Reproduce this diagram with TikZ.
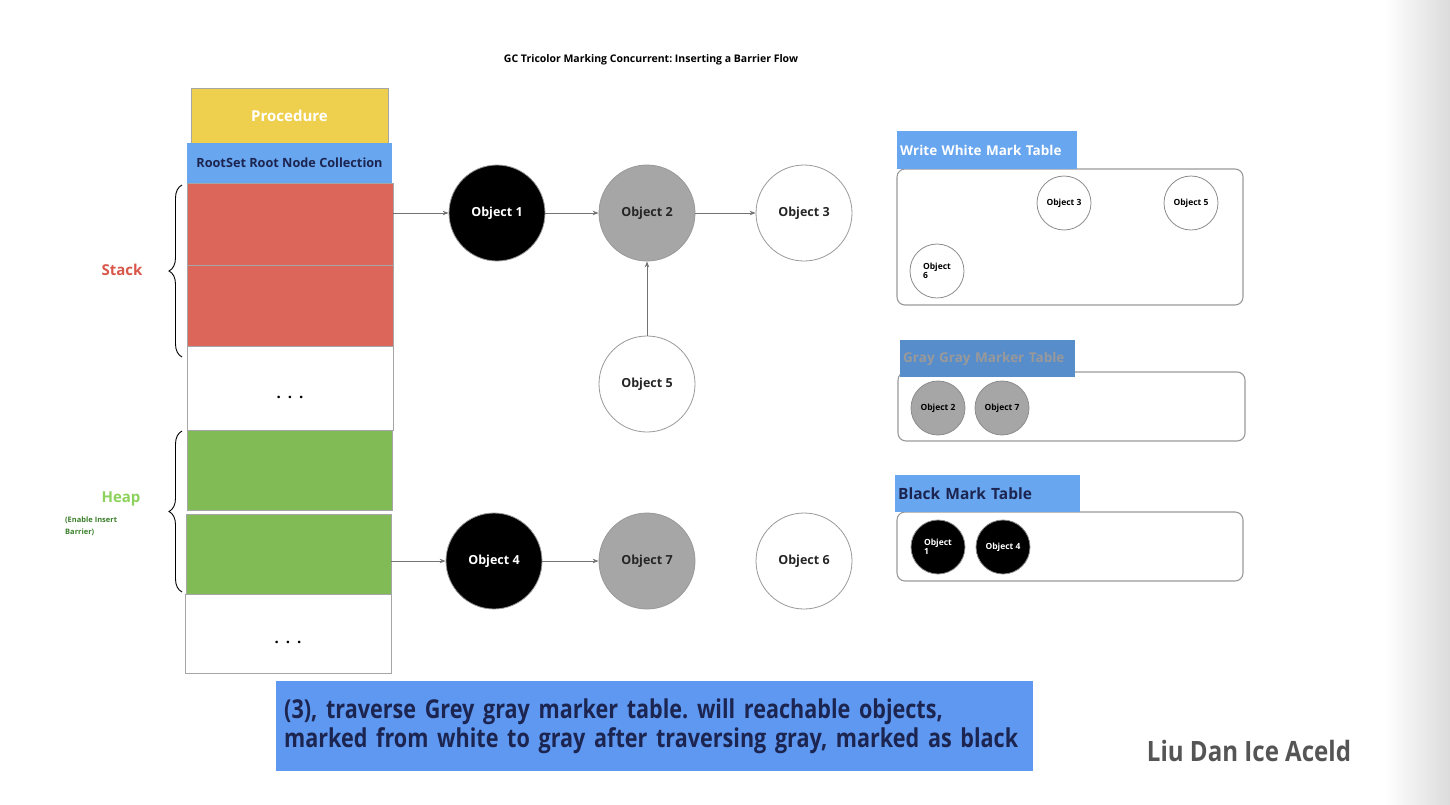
\documentclass[tikz,border=0pt]{standalone}
\usepackage{fontspec}
\setmainfont{Open Sans}
\newfontfamily\condfont[FakeStretch=0.83]{Open Sans}
\newfontfamily\authfont[FakeStretch=0.86]{Open Sans}
\usetikzlibrary{arrows.meta,decorations.pathreplacing,shapes.geometric}
\frenchspacing
\definecolor{procyellow}{HTML}{EFD04E}
\definecolor{hdrblue}{HTML}{68A6EF}
\definecolor{stackred}{HTML}{DB6659}
\definecolor{heapgreen}{HTML}{80BB55}
\definecolor{objgray}{HTML}{A6A6A6}
\definecolor{navytext}{HTML}{1C2450}
\definecolor{stacklabel}{HTML}{D9574A}
\definecolor{heaplabel}{HTML}{8CD15C}
\definecolor{darkgreen}{HTML}{3A7F2A}
\definecolor{capblue}{HTML}{5F98F1}
\definecolor{authorgray}{HTML}{555555}
\tikzset{
  cellbox/.style={draw=black!35, line width=0.8pt, inner sep=0pt},
  dotlabel/.style={font=\bfseries\fontsize{15}{16}\selectfont, inner sep=0pt},
  obj/.style={circle, draw=black!40, line width=0.8pt, minimum size=96pt, inner sep=0pt, font=\bfseries\fontsize{12.5}{14}\selectfont},
  blackobj/.style={obj, fill=black, text=white},
  grayobj/.style={obj, fill=objgray, text=black!85},
  whiteobj/.style={obj, fill=white, text=black!85},
  smallobj/.style={circle, draw=black!45, line width=0.8pt, minimum size=54pt, inner sep=0pt, font=\bfseries\fontsize{8.5}{9.5}\selectfont, align=left},
  link/.style={draw=black!55, line width=0.8pt, -{Stealth[length=6pt,width=4.5pt]}},
  tablebox/.style={draw=black!40, line width=1.1pt, rounded corners=8pt, inner sep=0pt},
  tablehdr/.style={fill=hdrblue, inner xsep=3pt, inner ysep=0pt, align=left, anchor=north west},
  bracestyle/.style={draw=black, line width=0.9pt, decorate, decoration={brace, amplitude=13pt}}
}
\begin{document}
\begin{tikzpicture}[x=1pt,y=-1pt]
\useasboundingbox (0,0) rectangle (1450,804);
\shade[left color=white, right color=black!14] (1385,0) rectangle (1450,804);

% title
\node[font=\bfseries\fontsize{10.5}{12}\selectfont] (title) at (651,60) {GC Tricolor Marking Concurrent: Inserting a Barrier Flow};

% left column
\node[cellbox, fill=procyellow, minimum width=197pt, minimum height=55pt, text=white, font=\bfseries\fontsize{15}{17}\selectfont] (proc) at (289.5,115.5) {Procedure};
\node[cellbox, draw=none, fill=hdrblue, minimum width=205pt, minimum height=40pt, text=navytext, font=\bfseries\fontsize{12.7}{14}\selectfont] (root) at (289.5,163) {RootSet Root Node Collection};
\node[cellbox, fill=stackred, minimum width=206pt, minimum height=82pt] (red1) at (290,224) {};
\node[cellbox, fill=stackred, minimum width=206pt, minimum height=81pt] (red2) at (290,305.5) {};
\node[cellbox, fill=white, minimum width=206pt, minimum height=84pt] (dots1) at (290,388) {};
\node[dotlabel] (dotstext1) at (290,397) {.\hspace{7pt}.\hspace{7pt}.};
\node[cellbox, fill=heapgreen, minimum width=205pt, minimum height=80pt] (green1) at (289.5,470) {};
\node[cellbox, fill=heapgreen, minimum width=205pt, minimum height=80pt] (green2) at (288.5,554) {};
\node[cellbox, fill=white, minimum width=206pt, minimum height=79pt] (dots2) at (288,633.5) {};
\node[dotlabel] (dotstext2) at (288,642) {.\hspace{7pt}.\hspace{7pt}.};

% braces and labels
\coordinate (sbot) at (182,357);
\coordinate (stop) at (182,185);
\draw[bracestyle] (sbot) -- (stop);
\coordinate (hbot) at (182,592);
\coordinate (htop) at (182,431);
\draw[bracestyle] (hbot) -- (htop);
\node[text=stacklabel, font=\bfseries\fontsize{15}{17}\selectfont] (stacklbl) at (122,270) {Stack};
\node[text=heaplabel, font=\bfseries\fontsize{15}{17}\selectfont] (heaplbl) at (121,499) {Heap};
\node[text=darkgreen, font=\bfseries\fontsize{7.5}{12}\selectfont, align=left, anchor=north west, inner sep=0pt] (barrier) at (65,517) {(Enable Insert\\Barrier)};

% objects
\node[blackobj] (o1) at (497,213) {Object 1};
\node[grayobj] (o2) at (647,213) {Object 2};
\node[whiteobj] (o3) at (804,213) {Object 3};
\node[whiteobj] (o5) at (647,384) {Object 5};
\node[blackobj] (o4) at (494,561) {Object 4};
\node[grayobj] (o7) at (647,561) {Object 7};
\node[whiteobj] (o6) at (804,561) {Object 6};

\draw[link] (red1.east |- o1) -- (o1);
\draw[link] (o1) -- (o2);
\draw[link] (o2) -- (o3);
\draw[link] (o5) -- (o2);
\draw[link] (green2.east |- o4) -- (o4);
\draw[link] (o4) -- (o7);

% white table
\node[tablebox, minimum width=346pt, minimum height=136pt] (wtab) at (1070,237) {};
\node[tablehdr, text width=174pt, minimum height=38pt, text=white, font=\bfseries\fontsize{13.5}{15}\selectfont] (whdr) at (897,131) {Write White Mark Table};
\node[smallobj, fill=white] (w3) at (1064,203) {Object 3};
\node[smallobj, fill=white] (w5) at (1191,203) {Object 5};
\node[smallobj, fill=white] (w6) at (937,271) {Object\\6};

% gray table
\node[tablebox, minimum width=347pt, minimum height=69pt] (gtab) at (1071.5,406.5) {};
\node[tablehdr, fill=hdrblue!85!black, text width=169pt, minimum height=37pt, text=black!40, font=\bfseries\fontsize{13.5}{15}\selectfont] (ghdr) at (900,340) {Gray Gray Marker Table};
\node[smallobj, fill=objgray] (g2) at (938,408) {Object 2};
\node[smallobj, fill=objgray] (g7) at (1002,408) {Object 7};

% black table
\node[tablebox, minimum width=346pt, minimum height=69pt] (btab) at (1070,546.5) {};
\node[tablehdr, text width=179pt, minimum height=37pt, text=navytext, font=\bfseries\fontsize{15.5}{17}\selectfont] (bhdr) at (895,475) {Black Mark Table};
\node[smallobj, fill=black, text=white] (b1) at (938,547) {Object\\1};
\node[smallobj, fill=black, text=white] (b4) at (1003,547) {Object 4};

% caption
\node[fill=capblue, anchor=north west, minimum height=90pt, text width=741pt, inner xsep=8pt, align=left, text=navytext, font=\condfont\bfseries\fontsize{26}{29}\selectfont] (caption) at (276,681) {(3), traverse Grey gray marker table. will reachable objects,\\marked from white to gray after traversing gray, marked as black};

\node[text=authorgray, font=\authfont\bfseries\fontsize{28}{32}\selectfont] (author) at (1249,751) {Liu Dan Ice Aceld};
\end{tikzpicture}
\end{document}
